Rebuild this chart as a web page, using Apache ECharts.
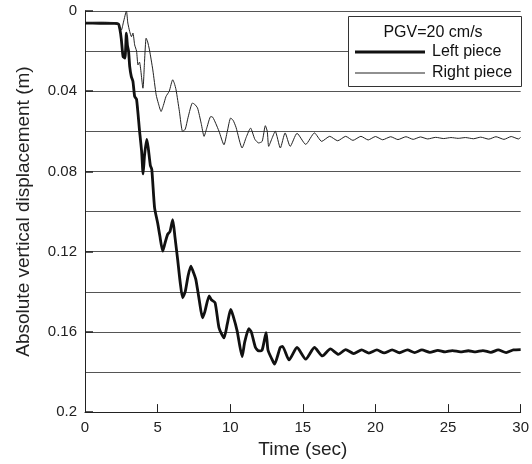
<!DOCTYPE html>
<html>
<head>
<meta charset="utf-8">
<script src="https://cdn.jsdelivr.net/npm/echarts@6/dist/echarts.min.js"></script>
<style>
html,body{margin:0;padding:0;background:#fff;}
#chart{width:532px;height:464px;}
</style>
</head>
<body>
<div id="chart"></div>
<script>
// ---- data ----
const xTicks = [0, 5, 10, 15, 20, 25, 30];
const yTicks = [0, 0.04, 0.08, 0.12, 0.16, 0.2];
const legendTitle = 'PGV=20 cm/s';
const seriesNames = ['Left piece', 'Right piece'];

const leftTime = [0, 1.0, 2.0, 2.3, 2.4, 2.5, 2.62, 2.75, 2.85, 2.92, 3.0, 3.08, 3.19, 3.3, 3.42, 3.55, 3.76, 3.9, 4.0, 4.1, 4.25, 4.35, 4.5, 4.6, 4.79, 5.01, 5.15, 5.35, 5.5, 5.69, 5.85, 6.04, 6.2, 6.38, 6.55, 6.72, 6.9, 7.1, 7.29, 7.45, 7.63, 7.86, 8.09, 8.25, 8.55, 8.7, 8.96, 9.23, 9.57, 9.8, 10.03, 10.2, 10.48, 10.82, 11.0, 11.28, 11.45, 11.74, 11.96, 12.2, 12.47, 12.6, 12.87, 13.05, 13.44, 13.6, 14.05, 14.6, 15.2, 15.8, 16.35, 16.9, 17.45, 17.95, 18.5, 19.05, 19.55, 20.1, 20.6, 21.15, 21.65, 22.2, 22.7, 23.2, 23.75, 24.3, 24.8, 25.3, 25.85, 26.4, 26.9, 27.4, 27.95, 28.45, 29.0, 29.5, 30.0];
const leftDisp = [0.0060, 0.0061, 0.0062, 0.0065, 0.0090, 0.0140, 0.0227, 0.0235, 0.0110, 0.0170, 0.0200, 0.0277, 0.0327, 0.0350, 0.0426, 0.0440, 0.0600, 0.0700, 0.0812, 0.0720, 0.0640, 0.0680, 0.0770, 0.0790, 0.0980, 0.1060, 0.1120, 0.1197, 0.1160, 0.1114, 0.1100, 0.1040, 0.1130, 0.1239, 0.1350, 0.1430, 0.1400, 0.1320, 0.1272, 0.1300, 0.1338, 0.1438, 0.1530, 0.1500, 0.1421, 0.1440, 0.1455, 0.1580, 0.1630, 0.1560, 0.1488, 0.1520, 0.1596, 0.1723, 0.1650, 0.1584, 0.1600, 0.1678, 0.1695, 0.1690, 0.1604, 0.1690, 0.1736, 0.1761, 0.1678, 0.1672, 0.1740, 0.1678, 0.1736, 0.1678, 0.1720, 0.1685, 0.1712, 0.1688, 0.1708, 0.1690, 0.1706, 0.1690, 0.1705, 0.1690, 0.1704, 0.1690, 0.1703, 0.1690, 0.1702, 0.1692, 0.1700, 0.1693, 0.1700, 0.1694, 0.1700, 0.1693, 0.1702, 0.1690, 0.1703, 0.1690, 0.1688];

const rightTime = [0, 1.0, 2.2, 2.35, 2.5, 2.65, 2.85, 2.95, 3.08, 3.2, 3.3, 3.42, 3.55, 3.65, 3.75, 3.99, 4.1, 4.21, 4.3, 4.44, 4.67, 4.9, 5.05, 5.24, 5.4, 5.58, 5.8, 6.04, 6.15, 6.27, 6.5, 6.72, 6.9, 7.1, 7.4, 7.55, 7.75, 8.0, 8.2, 8.4, 8.66, 8.8, 9.0, 9.23, 9.57, 9.8, 10.03, 10.2, 10.4, 10.82, 11.1, 11.4, 11.7, 11.96, 12.2, 12.42, 12.55, 12.65, 12.85, 13.1, 13.45, 13.78, 14.13, 14.6, 15.2, 15.8, 16.3, 16.85, 17.4, 17.95, 18.45, 19.0, 19.5, 20.0, 20.5, 21.05, 21.55, 22.1, 22.6, 23.1, 23.6, 24.15, 24.7, 25.2, 25.7, 26.2, 26.75, 27.25, 27.8, 28.3, 28.85, 29.35, 29.85, 30.0];
const rightDisp = [0.0058, 0.0057, 0.0059, 0.0075, 0.0095, 0.0055, 0.0000, 0.0060, 0.0103, 0.0128, 0.0110, 0.0169, 0.0200, 0.0269, 0.0255, 0.0385, 0.0250, 0.0136, 0.0150, 0.0194, 0.0294, 0.0418, 0.0460, 0.0501, 0.0470, 0.0426, 0.0400, 0.0343, 0.0360, 0.0393, 0.0500, 0.0600, 0.0590, 0.0530, 0.0459, 0.0465, 0.0484, 0.0560, 0.0625, 0.0580, 0.0526, 0.0530, 0.0560, 0.0600, 0.0667, 0.0600, 0.0534, 0.0545, 0.0580, 0.0683, 0.0630, 0.0584, 0.0640, 0.0658, 0.0650, 0.0572, 0.0600, 0.0675, 0.0640, 0.0600, 0.0683, 0.0608, 0.0675, 0.0610, 0.0665, 0.0608, 0.0650, 0.0625, 0.0647, 0.0625, 0.0645, 0.0625, 0.0643, 0.0626, 0.0642, 0.0627, 0.0641, 0.0627, 0.0640, 0.0628, 0.0638, 0.0630, 0.0636, 0.0631, 0.0635, 0.0631, 0.0637, 0.0629, 0.0639, 0.0627, 0.0640, 0.0626, 0.0638, 0.0630];

function pairs(t, v) { return t.map((x, i) => [x, v[i]]); }

const FONT = '"Liberation Sans", Arial, sans-serif';
const GRID = { left: 85, top: 11, right: 8, bottom: 51 };

const chart = echarts.init(document.getElementById('chart'), null, { renderer: 'canvas' });
const gridColor = '#555';

function legendFor(name, top, h) {
  return {
    show: true, orient: 'vertical', left: 355, top: top, padding: 0,
    itemWidth: 70, itemHeight: h, itemGap: 0, icon: 'rect',
    data: [name], z: 10, selectedMode: false,
    textStyle: { fontFamily: FONT, fontSize: 16, color: '#111', padding: [0, 0, 0, 2] }
  };
}

chart.setOption({
  animation: false,
  backgroundColor: '#fff',
  grid: { left: GRID.left, top: GRID.top, right: GRID.right, bottom: GRID.bottom, containLabel: false },
  xAxis: {
    type: 'value', min: xTicks[0], max: xTicks[xTicks.length - 1], interval: xTicks[1] - xTicks[0],
    name: 'Time (sec)', nameLocation: 'middle', nameGap: 22,
    nameTextStyle: { fontFamily: FONT, fontSize: 19, color: '#222' },
    axisLine: { show: true, onZero: false, lineStyle: { color: '#222', width: 1 } },
    axisTick: { show: true, inside: true, length: 8, lineStyle: { color: '#222', width: 1 } },
    axisLabel: { fontFamily: FONT, fontSize: 15, color: '#222', margin: 8 },
    splitLine: { show: false }
  },
  yAxis: {
    type: 'value', inverse: true, min: yTicks[0], max: yTicks[yTicks.length - 1], interval: yTicks[1] - yTicks[0],
    name: 'Absolute vertical displacement (m)', nameLocation: 'middle', nameGap: 52, nameRotate: 90,
    nameTextStyle: { fontFamily: FONT, fontSize: 19, color: '#222' },
    axisLine: { show: true, onZero: false, lineStyle: { color: '#222', width: 1 } },
    axisTick: { show: true, inside: true, length: 8, lineStyle: { color: '#222', width: 1.5 } },
    axisLabel: { fontFamily: FONT, fontSize: 15, color: '#222', margin: 8,
      formatter: v => String(Math.round(v * 100) / 100) },
    splitLine: { show: true, lineStyle: { color: gridColor, width: 1 } },
    minorTick: { show: false, splitNumber: 2 },
    minorSplitLine: { show: true, lineStyle: { color: gridColor, width: 1 } }
  },
  legend: [legendFor(seriesNames[0], 44, 3), legendFor(seriesNames[1], 65, 1)],
  graphic: [
    { type: 'rect', z: 8, shape: { x: 348.5, y: 16.5, width: 173, height: 70 },
      style: { fill: '#fff', stroke: '#333', lineWidth: 1 } },
    { type: 'text', z: 9, x: 433, y: 33,
      style: { text: legendTitle, fontFamily: FONT, fontSize: 16, fill: '#111', align: 'center', verticalAlign: 'middle' } }
  ],
  series: [
    { name: seriesNames[0], type: 'line', data: pairs(leftTime, leftDisp), symbol: 'none', smooth: 0.2,
      lineStyle: { color: '#111', width: 2.8 }, itemStyle: { color: '#111' }, z: 3 },
    { name: seriesNames[1], type: 'line', data: pairs(rightTime, rightDisp), symbol: 'none', smooth: 0.2,
      lineStyle: { color: '#222', width: 1 }, itemStyle: { color: '#222' }, z: 3 }
  ]
});
</script>
</body>
</html>
